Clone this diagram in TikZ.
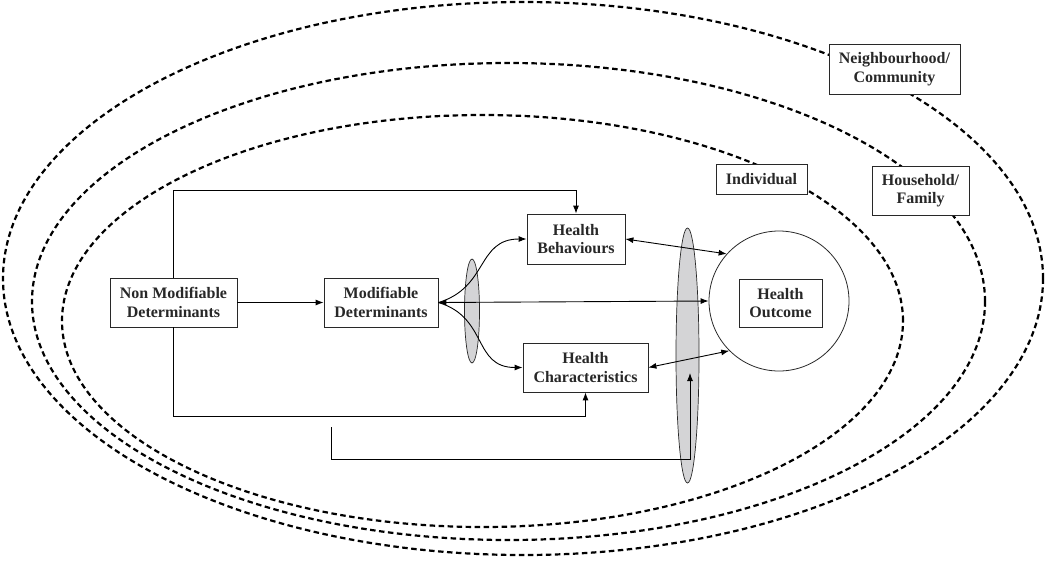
\documentclass[tikz,border=0pt]{standalone}
\usepackage{fontspec}
\setmainfont{Liberation Serif}
\usetikzlibrary{shapes.geometric,arrows.meta}
\definecolor{ink}{RGB}{40,40,40}
\definecolor{shade}{RGB}{212,212,214}
\begin{document}
\begin{tikzpicture}[x=1pt,y=-1pt,
  zone/.style={draw=black,line width=2.2pt,dash pattern=on 5.5pt off 3.5pt},
  box/.style={draw=ink,line width=0.8pt,fill=white,inner sep=0pt,align=center,text=ink,
              font=\fontsize{16}{18.5}\selectfont\bfseries},
  conn/.style={draw=black,line width=0.9pt},
  tip/.style={-{Latex[length=8pt,width=6pt]}},
  dtip/.style={{Latex[length=8pt,width=6pt]}-{Latex[length=8pt,width=6pt]}},
  grayoval/.style={ellipse,draw=ink,line width=0.7pt,fill=shade,inner sep=0pt}
]
\useasboundingbox (0,0) rectangle (1046,563);

% nested zones
\draw[zone] (523,278.5) ellipse [x radius=520pt, y radius=276.5pt];
\draw[zone] (508.5,301.5) ellipse [x radius=476.5pt, y radius=238.5pt];
\draw[zone] (482.5,321) ellipse [x radius=420.5pt, y radius=206pt];

% zone labels
\node[box,minimum width=131pt,minimum height=50pt] (nc) at (894.5,69) {Neighbourhood/\\Community};
\node[box,minimum width=97pt,minimum height=49pt] (hf) at (920.5,190.5) {Household/\\Family};
\node[box,minimum width=91pt,minimum height=30pt] (ind) at (761.5,179) {Individual};

% gray ovals
\node[grayoval,minimum width=15pt,minimum height=104pt] (smallE) at (472,311) {};
\node[grayoval,minimum width=23pt,minimum height=255pt] (bigE) at (687.5,355.5) {};

% outcome circle
\node[circle,draw=ink,line width=0.8pt,fill=white,minimum size=140pt,inner sep=0pt] (circ) at (779,301) {};

% main boxes
\node[box,minimum width=127pt,minimum height=49pt] (nmd) at (173.5,302.5) {Non Modifiable\\Determinants};
\node[box,minimum width=114pt,minimum height=49pt] (md) at (381,302.5) {Modifiable\\Determinants};
\node[box,minimum width=98pt,minimum height=50pt] (hb) at (576,239) {Health\\Behaviours};
\node[box,minimum width=125pt,minimum height=49pt] (hc) at (585.5,367.5) {Health\\Characteristics};
\node[box,minimum width=83pt,minimum height=48pt] (ho) at (780.5,303) {Health\\Outcome};

% connectors
\draw[conn,tip] (nmd.east) -- (md.west);
\draw[conn,tip] (nmd.north) -- ++(0,-87) -| (hb.north);
\draw[conn,tip] (nmd.south) -- ++(0,89) -| (hc.south);
\draw[conn,dtip] (md.east) -- (circ.west);
\draw[conn,tip] (md.east) .. controls +(50,-15) and +(-50,0) .. (hb.west);
\draw[conn,tip] (md.east) .. controls +(50,15) and +(-50,0) .. (hc.west);
\draw[conn,dtip] (hb.east) -- (circ.138);
\draw[conn,dtip] (hc.east) -- (circ.225);

\coordinate (fb) at (331,427);
\coordinate (fe) at (690,373);
\draw[conn,tip] (fb) -- (331,459) -| (fe);
\end{tikzpicture}
\end{document}
